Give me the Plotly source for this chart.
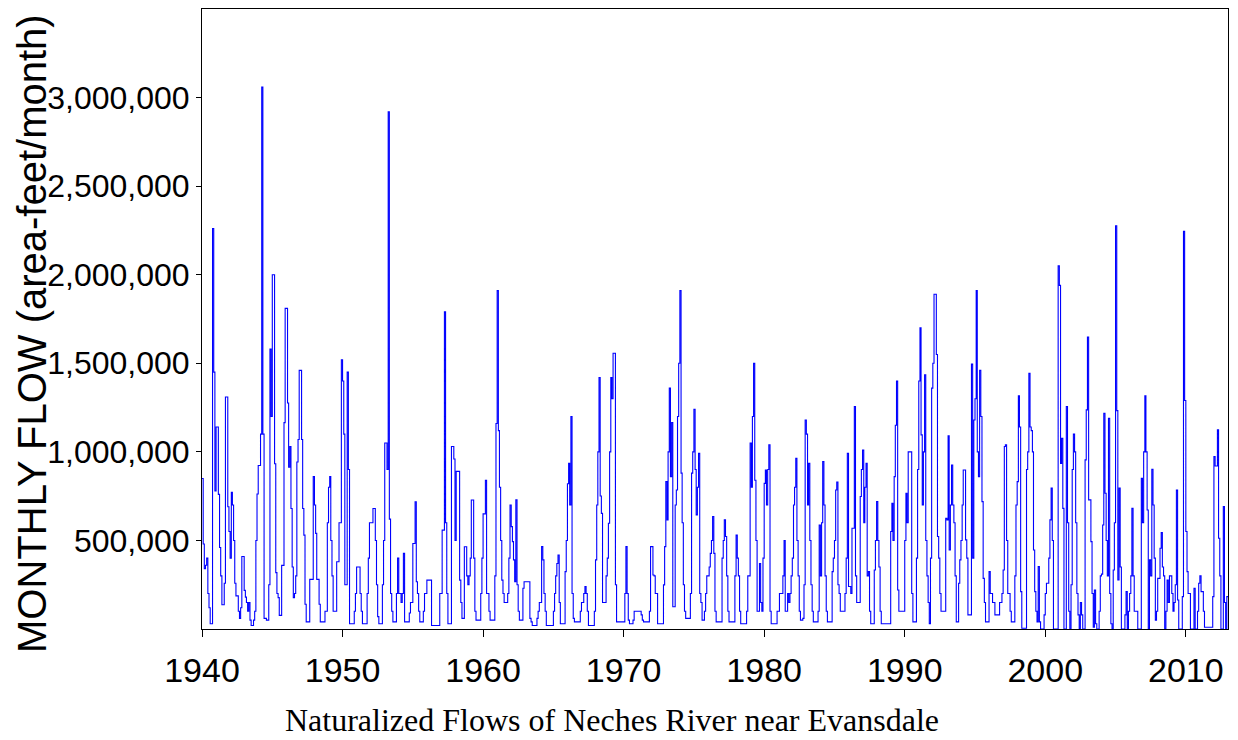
import pandas as pd
import plotly.graph_objects as go

# Monthly naturalized flows (thousand acre-feet/month), Jan..Dec per year
flows_1940s = [
    850, 480, 340, 360, 400, 200, 120, 30, 30, 2260, 1450, 780,        # 1940
    1140, 1140, 760, 460, 300, 137, 137, 258, 1310, 1310, 690, 550,     # 1941
    400, 772, 700, 500, 258, 187, 187, 100, 60, 120, 409, 409,          # 1942
    218, 180, 150, 100, 150, 50, 20, 20, 50, 100, 500, 762,             # 1943
    923, 923, 1100, 3060, 1100, 60, 60, 50, 50, 250, 1580, 1200,        # 1944
    2000, 2000, 933, 318, 200, 177, 77, 77, 359, 359, 1165, 1810,       # 1945
    1810, 1276, 913, 1030, 680, 350, 177, 200, 300, 943, 1070, 1460,    # 1946
    1460, 1070, 680, 530, 140, 40, 40, 40, 280, 280, 280, 860,          # 1947
    700, 540, 280, 280, 140, 40, 40, 40, 40, 100, 100, 600,             # 1948
    800, 860, 500, 300, 100, 100, 100, 380, 380, 600, 600, 1520,        # 1949
]
flows_1950s = [
    1400, 1100, 250, 250, 1450, 900, 30, 30, 30, 30, 100, 200,          # 1950
    350, 350, 350, 200, 100, 30, 30, 30, 30, 200, 400, 600,             # 1951
    600, 600, 680, 680, 500, 250, 70, 30, 30, 30, 250, 500,             # 1952
    1050, 1050, 900, 2920, 620, 200, 100, 40, 40, 40, 200, 400,         # 1953
    200, 200, 150, 200, 427, 40, 40, 40, 40, 90, 150, 150,              # 1954
    483, 483, 718, 267, 200, 100, 40, 40, 40, 100, 200, 200,            # 1955
    276, 276, 276, 276, 20, 20, 20, 20, 20, 20, 20, 200,                # 1956
    200, 558, 558, 1790, 600, 200, 30, 30, 30, 1030, 1030, 960,         # 1957
    500, 890, 890, 890, 276, 150, 60, 60, 464, 464, 300, 250,           # 1958
    300, 400, 728, 728, 400, 100, 50, 50, 50, 50, 200, 400,             # 1959
]
flows_1960s = [
    650, 650, 840, 200, 200, 100, 50, 50, 50, 50, 300, 1160,            # 1960
    1910, 1120, 800, 500, 276, 200, 150, 150, 150, 200, 400, 700,       # 1961
    578, 493, 390, 267, 729, 250, 100, 50, 50, 50, 230, 267,            # 1962
    267, 267, 267, 267, 60, 40, 20, 20, 20, 20, 60, 100,                # 1963
    150, 150, 465, 390, 200, 100, 20, 20, 20, 20, 20, 20,               # 1964
    100, 200, 300, 370, 418, 150, 30, 30, 30, 30, 324, 500,             # 1965
    820, 936, 700, 1200, 200, 60, 40, 40, 40, 40, 40, 100,              # 1966
    150, 150, 200, 240, 200, 100, 20, 20, 20, 20, 20, 100,              # 1967
    390, 700, 1000, 1420, 751, 653, 150, 150, 150, 300, 400, 597,       # 1968
    1000, 1420, 1300, 1557, 1557, 250, 40, 40, 40, 40, 40, 40,          # 1969
]
flows_1970s = [
    40, 200, 465, 200, 50, 30, 30, 30, 50, 100, 100, 100,               # 1970
    100, 100, 100, 80, 50, 40, 40, 40, 40, 40, 100, 465,                # 1971
    465, 305, 300, 200, 200, 30, 30, 30, 30, 30, 249, 465,              # 1972
    832, 616, 1000, 1360, 860, 1166, 126, 126, 700, 785, 1200, 1500,    # 1973
    1910, 880, 600, 250, 100, 60, 60, 60, 60, 200, 880, 1000,           # 1974
    1240, 900, 644, 800, 992, 200, 150, 50, 50, 100, 200, 300,          # 1975
    300, 350, 427, 500, 635, 427, 100, 40, 40, 40, 40, 40,              # 1976
    400, 500, 616, 522, 300, 100, 40, 40, 40, 40, 40, 300,              # 1977
    530, 400, 300, 100, 30, 30, 30, 30, 30, 100, 300, 300,              # 1978
    1050, 800, 1200, 1500, 840, 500, 100, 100, 370, 150, 100, 400,      # 1979
]
flows_1980s = [
    822, 898, 700, 900, 1040, 100, 30, 30, 30, 30, 30, 100,             # 1980
    100, 200, 200, 200, 300, 500, 100, 100, 200, 150, 200, 300,         # 1981
    400, 700, 800, 964, 500, 300, 100, 50, 50, 60, 250, 1180,           # 1982
    1100, 700, 936, 500, 250, 100, 40, 40, 40, 40, 100, 587,            # 1983
    300, 600, 945, 700, 300, 100, 40, 40, 40, 40, 324, 400,             # 1984
    500, 785, 830, 250, 200, 100, 100, 100, 100, 200, 400, 992,         # 1985
    240, 240, 200, 569, 569, 1256, 300, 150, 150, 150, 748, 900,        # 1986
    1010, 600, 800, 936, 300, 324, 100, 30, 30, 30, 333, 500,           # 1987
    720, 500, 350, 100, 30, 30, 30, 30, 30, 30, 30, 30,                 # 1988
    550, 710, 500, 860, 1150, 1400, 220, 100, 100, 100, 100, 100,       # 1989
]
flows_1990s = [
    500, 766, 600, 1000, 1000, 1000, 200, 40, 40, 40, 400, 900,         # 1990
    1400, 1700, 1096, 700, 1000, 1435, 500, 300, 150, 30, 400, 1360,    # 1991
    1500, 1890, 1890, 1550, 522, 400, 200, 100, 100, 100, 100, 625,     # 1992
    616, 1090, 446, 700, 926, 700, 600, 300, 40, 40, 258, 390,          # 1993
    500, 700, 898, 898, 503, 400, 80, 80, 80, 1495, 400, 1180,          # 1994
    1300, 1910, 1000, 860, 1460, 1200, 719, 286, 150, 40, 40, 40,       # 1995
    324, 200, 200, 150, 150, 80, 80, 80, 80, 150, 150, 200,             # 1996
    333, 1030, 1040, 500, 200, 200, 100, 40, 40, 40, 300, 700,          # 1997
    832, 1316, 1140, 211, 4, 4, 4, 4, 900, 1000, 1444, 1140,            # 1998
    1120, 1000, 446, 211, 100, 40, 352, 40, 0, 0, 0, 80,                # 1999
]
flows_2000s = [
    200, 258, 258, 400, 616, 795, 500, 0, 0, 0, 0, 2050,                # 2000
    1940, 935, 1077, 681, 0, 0, 1256, 600, 100, 0, 250, 900,            # 2001
    1100, 1000, 600, 200, 80, 0, 150, 80, 0, 0, 955, 1237,              # 2002
    1648, 729, 729, 493, 200, 10, 220, 30, 0, 0, 100, 300,              # 2003
    310, 587, 1218, 766, 500, 300, 1190, 200, 30, 0, 333, 600,          # 2004
    2276, 1233, 277, 795, 350, 0, 0, 0, 80, 211, 0, 100,                # 2005
    200, 300, 681, 300, 100, 100, 100, 0, 0, 0, 851, 600,               # 2006
    1000, 1316, 1000, 672, 0, 390, 300, 902, 700, 400, 50, 100,         # 2007
    286, 286, 456, 544, 350, 300, 0, 100, 277, 150, 300, 300,           # 2008
    200, 100, 150, 250, 785, 164, 0, 0, 0, 183, 2245, 1290,             # 2009
]
flows_2010s = [
    550, 324, 200, 200, 0, 0, 0, 230, 0, 0, 100, 258,                   # 2010
    300, 211, 211, 100, 10, 10, 10, 10, 10, 10, 10, 183,                # 2011
    973, 920, 920, 1124, 512, 300, 0, 0, 691, 150, 0, 183,              # 2012
]

start_month = "1940-01-01"
y_ticks = [500000, 1000000, 1500000, 2000000, 2500000, 3000000]
x_tick_years = [1940, 1950, 1960, 1970, 1980, 1990, 2000, 2010]

monthly = (flows_1940s + flows_1950s + flows_1960s + flows_1970s
           + flows_1980s + flows_1990s + flows_2000s + flows_2010s)
values = [v * 1000 for v in monthly]
dates = pd.date_range(start_month, periods=len(values), freq="MS")
# extend the last step to the end of its month
end_date = dates[-1] + pd.offsets.MonthBegin(1)
xs = list(dates) + [end_date]
ys = values + [values[-1]]

sans = "Liberation Sans, Arial, sans-serif"

fig = go.Figure()
fig.add_trace(go.Scatter(
    x=xs, y=ys, mode="lines", line=dict(color="#0000ff", width=1.1, shape="hv"),
    showlegend=False, hoverinfo="skip",
))

# page body adds an 8px offset; the figure is sized to fit inside the window
fig.update_layout(
    width=1230, height=732,
    margin=dict(l=194, r=10, t=1, b=111),
    paper_bgcolor="white", plot_bgcolor="white",
)
fig.update_xaxes(
    type="date", automargin=False,
    range=[start_month, end_date],
    tickvals=[f"{y}-01-01" for y in x_tick_years],
    ticktext=[str(y) for y in x_tick_years],
    ticks="outside", ticklen=7, tickcolor="black", tickwidth=1,
    ticklabelstandoff=4,
    showline=True, linecolor="black", linewidth=1, mirror=True,
    showgrid=False, zeroline=False,
    tickfont=dict(family=sans, size=34, color="black"),
)
fig.update_yaxes(
    automargin=False,
    range=[0, 3500000],
    tickvals=y_ticks, tickformat=",",
    ticks="outside", ticklen=5, tickcolor="black", tickwidth=1,
    showline=True, linecolor="black", linewidth=1, mirror=True,
    showgrid=False, zeroline=False,
    tickfont=dict(family=sans, size=32, color="black"),
)
fig.add_annotation(
    text="MONTHLY FLOW (area-feet/month)", textangle=-90,
    xref="paper", yref="paper", x=0, y=0.5,
    xanchor="center", yanchor="middle",
    xshift=-170, yshift=-15, showarrow=False,
    font=dict(family=sans, size=40, color="black"),
)
fig.add_annotation(
    text="Naturalized Flows of Neches River near Evansdale",
    xref="paper", yref="paper", x=0.4, y=0,
    xanchor="center", yanchor="middle",
    yshift=-91, showarrow=False,
    font=dict(family="Liberation Serif, Times New Roman, serif", size=32, color="black"),
)

fig.write_html("out.html")
